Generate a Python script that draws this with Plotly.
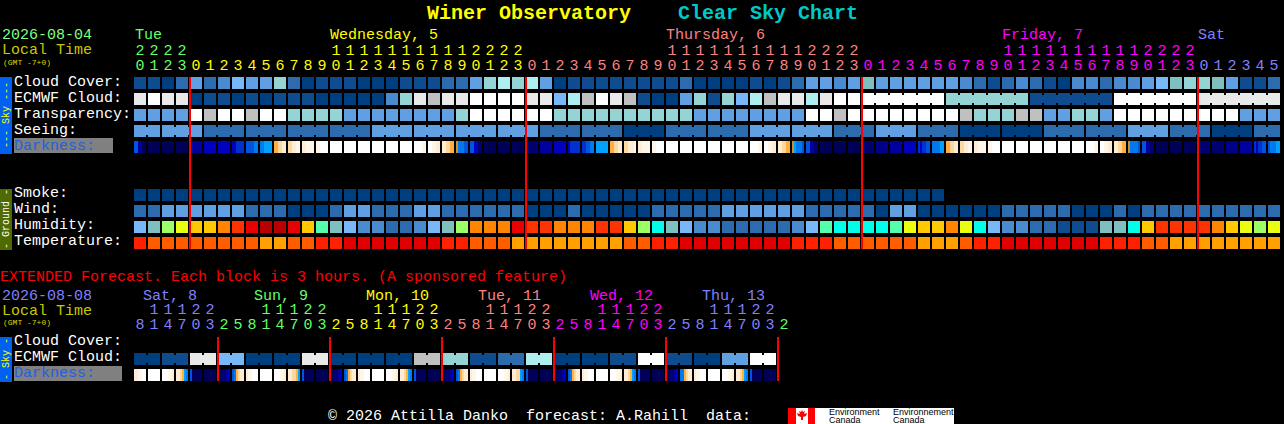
import plotly.graph_objects as go

W, H = 1284, 424
MONO = "Liberation Mono"

# block colours, the rows below hold indexes into this list
palette = ["#003f7f", "#0e4b8f", "#2c6bad", "#4a8bd0", "#5f9fe2", "#78b8f8", "#80bfbf", "#94d4d4", "#aeeeee",
           "#c0c0c0", "#e9e9e9", "#ffffff", "#9cff66", "#eaff10", "#ffc800", "#ff8400", "#ff3300", "#ea0000",
           "#b80000", "#55ffaa", "#00ffe9", "#ff2000", "#ff5c00", "#ffa000", "#e00000"]
# darkness scale, hex digit 0 (daylight) to f (dark night)
dark_palette = ["#ffffff", "#fff6ea", "#ffecd4", "#ffd8a0", "#ffb040", "#d09020", "#00a0ff", "#0078f0",
                "#0054e0", "#0030d0", "#0000c0", "#0000a0", "#000088", "#000070", "#000058", "#00004c"]

hours = [20, 21, 22, 23, 0, 1, 2, 3, 4, 5, 6, 7, 8, 9, 10, 11, 12, 13, 14, 15, 16, 17, 18, 19, 20, 21, 22, 23,
         0, 1, 2, 3, 4, 5, 6, 7, 8, 9, 10, 11, 12, 13, 14, 15, 16, 17, 18, 19, 20, 21, 22, 23,
         0, 1, 2, 3, 4, 5, 6, 7, 8, 9, 10, 11, 12, 13, 14, 15, 16, 17, 18, 19, 20, 21, 22, 23,
         0, 1, 2, 3, 4, 5]
hour_colors = ["#66ff66"] * 4 + ["#ffff00"] * 24 + ["#ff8080"] * 24 + ["#ff00ff"] * 24 + ["#8080ff"] * 6

cloud_cover = [1, 1, 0, 2, 4, 2, 3, 5, 4, 4, 7, 2, 0, 1, 1, 1, 0, 0, 0, 1, 1, 1, 2, 2, 4, 7, 8, 7, 8, 4, 0, 1, 1, 1,
               1, 1, 1, 1, 1, 2, 0, 0, 0, 0, 1, 0, 1, 2, 4, 4, 3, 4, 6, 4, 4, 4, 4, 4, 4, 3, 2, 1, 2, 3, 2, 1, 0,
               3, 3, 2, 3, 3, 4, 5, 6, 7, 7, 6, 4, 1, 1, 2]
ecmwf_cloud = [10, 11, 10, 10, 0, 1, 1, 0, 1, 0, 1, 1, 1, 0, 0, 0, 0, 0, 3, 7, 10, 9, 10, 10, 11, 11, 11, 11, 10, 10,
               5, 8, 9, 11, 10, 9, 1, 0, 0, 4, 7, 1, 7, 5, 8, 9, 10, 10, 8, 10, 11, 11,
               11, 11, 11, 11, 11, 11, 7, 7, 7, 7, 7, 7, 1, 1, 1, 1, 1, 1, 11, 11, 11, 11, 11, 11,
               10, 10, 10, 10, 10, 10]
transparency = [4, 4, 4, 4, 11, 9, 11, 11, 9, 11, 11, 7, 7, 7, 7, 4, 4, 4, 4, 4, 4, 4, 4, 7, 11, 11, 11, 11, 11, 11,
                7, 7, 7, 7, 7, 7, 7, 7, 7, 7, 4, 4, 4, 4, 4, 4, 4, 4, 11, 11, 9, 11,
                11, 11, 11, 11, 11, 11, 11, 9, 7, 7, 7, 9, 9, 4, 4, 7, 7, 4, 11, 11, 11, 11, 11, 11, 11, 11, 11,
                4, 4, 4]
seeing = [4, 4, 4, 4, 4, 2, 2, 2, 2, 2, 2, 2, 2, 2, 2, 2, 2, 4, 4, 4, 4, 4, 4, 4, 4, 4, 4, 4, 4, 2, 2, 2, 2, 2, 2,
          0, 0, 0, 2, 2, 2, 2, 2, 2, 4, 4, 4, 4, 4, 4, 2, 2, 2, 4, 4, 4, 2, 2, 2, 0, 0, 0, 0, 0, 0, 2, 2, 2, 2, 2, 2,
          4, 4, 4, 2, 2, 2, 0, 0, 0, 2, 2]
smoke = [0] * 58
wind = [2, 2, 4, 4, 4, 4, 4, 4, 2, 2, 2, 0, 0, 0, 2, 4, 4, 2, 2, 2, 4, 4, 2, 2, 2, 2, 2, 2, 0, 0, 0, 2, 0, 0, 0, 0, 0,
        2, 2, 2, 2, 2, 4, 4, 4, 4, 4, 4, 2, 2, 2, 2, 2, 0, 4, 4, 0, 0, 0, 0, 0, 0, 2, 2, 2, 2, 2, 0, 0, 0, 2, 0,
        2, 2, 2, 2, 2, 2, 2, 2, 2, 2]
humidity = [5, 6, 12, 13, 14, 14, 15, 16, 17, 18, 18, 17, 14, 19, 6, 5, 3, 3, 2, 2, 3, 5, 6, 12, 15, 15, 15, 17, 16, 16,
            15, 15, 15, 16, 16, 14, 12, 20, 6, 5, 3, 3, 2, 2, 2, 2, 2, 3, 5, 19, 20, 20,
            20, 20, 19, 13, 14, 14, 15, 13, 20, 5, 3, 3, 2, 2, 1, 1, 1, 6, 6, 20, 14, 16, 16, 16, 16, 15, 14, 13, 12, 13]
temperature = [21, 22, 22, 22, 22, 22, 22, 22, 22, 23, 23, 22, 22, 21, 21, 24, 24, 24, 24, 24, 24, 24, 21, 21, 22, 22, 22,
               23, 23, 23, 23, 23, 23, 23, 23, 22, 22, 21, 21, 24, 24, 24, 24, 24, 24, 24, 24, 21, 21, 21, 22, 22,
               22, 22, 22, 22, 23, 23, 23, 22, 21, 21, 24, 24, 24, 24, 24, 24, 24, 21, 21, 21, 22, 22,
               23, 23, 23, 23, 23, 23, 23, 23]
# six samples across each hour block
darkness = ["88bbee", "eeeeee", "eeeeee", "eeeeee", "bbbbbb", "aaaaaa", "aaaaaa", "aa9999", "888877", "776666",
            "443322", "332211", "221111", "110000", "000000", "000000", "000000", "000000", "000000", "000000",
            "000011", "001122", "223344", "577788", "88aadd", "eeeeee", "eeeeee", "eeeeee", "dddddd", "bbbbbb",
            "aaaaaa", "a99999", "998877", "666666", "443322", "332221", "221111", "110000", "000000", "000000",
            "000000", "000000", "000000", "000000", "000011", "001122", "223344", "567778", "88bbdd", "eeeeee",
            "eeeeee", "eeeeee", "dddddd", "cccccc", "bbbbbb", "aaaaaa", "9a9988", "777766", "443322", "332211",
            "221111", "110000", "000000", "000000", "000000", "000000", "000000", "000000", "000011", "001122",
            "223344", "577778", "88bbdd", "eeeeee", "eeeeee", "eeeeee", "dddddd", "dddddd", "cccccc", "bbbbbb",
            "9a9988", "877766"]

ext_hours = [8, 11, 14, 17, 20, 23, 2, 5, 8, 11, 14, 17, 20, 23, 2, 5, 8, 11, 14, 17, 20, 23, 2, 5, 8, 11, 14, 17,
             20, 23, 2, 5, 8, 11, 14, 17, 20, 23, 2, 5, 8, 11, 14, 17, 20, 23, 2]
ext_colors = ["#8080ff"] * 6 + ["#66ff66"] * 8 + ["#ffff00"] * 8 + ["#ff8080"] * 8 + ["#ff00ff"] * 8 \
    + ["#8080ff"] * 8 + ["#66ff66"]
ext_ecmwf = [0, 0, 1, 1, 10, 10, 5, 5, 0, 0, 0, 0, 10, 10, 0, 0, 0, 0, 0, 0, 9, 9, 7, 7, 1, 1, 2, 2, 8, 8, 0, 0, 0, 0,
             1, 1, 11, 11, 1, 1, 0, 0, 4, 4, 11, 11]
ext_darkness = ["221100", "000000", "000112", "223467", "8eeeee", "eeeeee",
                "eeddba", "874322", "211000", "000000", "000112", "223346", "8eeeee", "eeeeee",
                "eeddba", "874322", "211000", "000000", "000112", "223467", "8eeeee", "eeeeee",
                "eeddba", "874322", "211000", "000000", "000112", "223367", "8eeeee", "eeeeee",
                "eeddba", "874322", "211000", "000000", "000112", "223467", "8eeeee", "eeeeee",
                "eeddba", "774322", "211000", "000000", "000112", "223467", "8eeeee", "eeeeee"]

midnights = [4, 28, 52, 76]
ext_midnights = [6, 14, 22, 30, 38, 46]

# 3 hour seeing and 6 hour ecmwf data are drawn as joined blocks
seeing_starts = [0] + list(range(2, 82, 3))
ecmwf_starts = [52, 58, 64, 70, 76]
ext_starts = list(range(0, 46, 2))


def row_y(px):
    return (px - 83) / 16


def padded(vals, n=82):
    return vals + [None] * (n - len(vals))


def steps(colors):
    n = len(colors)
    out = []
    for i, c in enumerate(colors):
        out += [[i / n, c], [(i + 1) / n, c]]
    return out


def join_pairs(starts, end):
    pairs = []
    for a, b in zip(starts, starts[1:] + [end]):
        pairs += [(i, i + 1) for i in range(a, b - 1)]
    return pairs


def dark_row(cells):
    z = []
    for cell in cells:
        z += [int(ch, 16) for ch in cell] + [None]
    return z


fig = go.Figure()

main_rows = [cloud_cover, ecmwf_cloud, transparency, seeing, [None] * 82, [None] * 82, [None] * 82,
             padded(smoke), wind, humidity, temperature]
fig.add_trace(go.Heatmap(z=main_rows, x0=0, dx=1, y0=0, dy=1, xgap=2, ygap=4, zmin=-0.5, zmax=len(palette) - 0.5,
                         colorscale=steps(palette), showscale=False, hoverinfo="skip"))
fig.add_trace(go.Heatmap(z=[ext_ecmwf], x0=0, dx=1, y0=row_y(359), dy=1, xgap=2, ygap=4, zmin=-0.5,
                         zmax=len(palette) - 0.5, colorscale=steps(palette), showscale=False, hoverinfo="skip"))
for cells, y in [(darkness, 4), (ext_darkness, row_y(375))]:
    fig.add_trace(go.Heatmap(z=[dark_row(cells)], x0=-5 / 14, dx=1 / 7, y0=y, dy=0.75, zmin=-0.5, zmax=15.5,
                             colorscale=steps(dark_palette), showscale=False, hoverinfo="skip"))

# connectors between joined blocks, one trace per colour
segments = {}
for vals, y, starts, end in [(seeing, 3, seeing_starts, 82), (ecmwf_cloud, 1, ecmwf_starts, 82),
                             (ext_ecmwf, row_y(359), ext_starts, 46)]:
    for a, b in join_pairs(starts, end):
        if vals[a] == vals[b]:
            xs, ys = segments.setdefault(vals[a], ([], []))
            xs += [a, b, None]
            ys += [y, y, None]
for code, (xs, ys) in segments.items():
    fig.add_trace(go.Scatter(x=xs, y=ys, mode="lines", line=dict(color=palette[code], width=8), hoverinfo="skip"))

red_x, red_y = [], []
for c in midnights:
    red_x += [c - 3 / 7, c - 3 / 7, None]
    red_y += [row_y(77), row_y(249), None]
for c in ext_midnights:
    red_x += [c - 3 / 7, c - 3 / 7, None]
    red_y += [row_y(337), row_y(381), None]
fig.add_trace(go.Scatter(x=red_x, y=red_y, mode="lines", line=dict(color="#ff0000", width=2), hoverinfo="skip"))


def add_digits(hrs, colors, tens_px, ones_px):
    x = list(range(len(hrs)))
    tens = [str(h // 10) if h >= 10 else "" for h in hrs]
    ones = [str(h % 10) for h in hrs]
    for text, px in [(tens, tens_px), (ones, ones_px)]:
        fig.add_trace(go.Scatter(x=x, y=[row_y(px)] * len(x), mode="text", text=text, textposition="middle center",
                                 textfont=dict(family=MONO, size=15, color=colors), hoverinfo="skip"))


add_digits(hours, hour_colors, 51, 66)
add_digits(ext_hours, ext_colors, 310, 325)


def label(text, x, y, color="#ffffff", size=15, bold=False, angle=0, center=False):
    if bold:
        text = "<b>" + text + "</b>"
    fig.add_annotation(text=text, x=x / W, y=1 - y / H, xref="paper", yref="paper", showarrow=False,
                       xanchor="center" if center else "left", yanchor="middle", textangle=angle,
                       font=dict(family=MONO, size=size, color=color), borderpad=0, borderwidth=0)


def box(x0, y0, x1, y1, color):
    fig.add_shape(type="rect", xref="paper", yref="paper", x0=x0 / W, x1=x1 / W, y0=1 - y0 / H, y1=1 - y1 / H,
                  fillcolor=color, line_width=0, layer="below")


label("Winer Observatory", 427, 13, "#ffff00", 20, True)
label("Clear Sky Chart", 678, 13, "#00c8c8", 20, True)

label("2026-08-04", 2, 36, "#80ff80")
label("Local Time", 2, 51, "#c8c800")
label("(GMT -7+0)", 3, 62, "#d8d800", 8)
for name, px, col in [("Tue", 135, "#66ff66"), ("Wednesday, 5", 330, "#ffff00"), ("Thursday, 6", 666, "#ff8080"),
                      ("Friday, 7", 1002, "#ff00ff"), ("Sat", 1198, "#8080ff")]:
    label(name, px, 36, col)

for name, px in [("Cloud Cover:", 82), ("ECMWF Cloud:", 98), ("Transparency:", 114), ("Seeing:", 130),
                 ("Smoke:", 193), ("Wind:", 209), ("Humidity:", 225), ("Temperature:", 241),
                 ("Cloud Cover:", 341), ("ECMWF Cloud:", 357)]:
    label(name, 14, px)

box(14, 138, 113, 153, "#808080")
label("Darkness:", 14, 146, "#2060e0")
box(14, 366, 122, 381, "#808080")
label("Darkness:", 14, 373, "#2060e0")

box(0, 77, 12, 154, "#0060f0")
label("--- Sky ---", 6, 115, "#ffff00", 10, angle=-90, center=True)
box(0, 189, 12, 250, "#4f6a00")
label("- Ground -", 6, 219, "#ffffff", 10, angle=-90, center=True)
box(0, 337, 12, 382, "#0060f0")
label("- Sky -", 6, 359, "#ffff00", 10, angle=-90, center=True)

label("EXTENDED Forecast. Each block is 3 hours. (A sponsored feature)", 0, 277, "#ff0000")

label("2026-08-08", 2, 296, "#8080ff")
label("Local Time", 2, 311, "#c8c800")
label("(GMT -7+0)", 3, 322, "#d8d800", 8)
for name, px, col in [("Sat, 8", 143, "#8080ff"), ("Sun, 9", 254, "#66ff66"), ("Mon, 10", 366, "#ffff00"),
                      ("Tue, 11", 478, "#ff8080"), ("Wed, 12", 590, "#ff00ff"), ("Thu, 13", 702, "#8080ff")]:
    label(name, px, 296, col)

label("\u00a9 2026 Attilla Danko  forecast: A.Rahill  data:".replace("  ", "\u00a0\u00a0"), 328, 416)

# Environment Canada logo
box(788, 408, 954, 424, "#ffffff")
box(788, 408, 796, 424, "#ff0000")
box(808, 408, 815, 424, "#ff0000")
leaf = [(802, 410), (803, 412), (805, 411), (804, 414), (807, 413), (806, 416), (803, 417), (803, 420), (801, 420),
        (801, 417), (798, 416), (797, 413), (800, 414), (799, 411), (801, 412)]
path = "M " + " L ".join(f"{x / W} {1 - y / H}" for x, y in leaf) + " Z"
fig.add_shape(type="path", xref="paper", yref="paper", path=path, fillcolor="#ff0000", line_width=0)
for name, x, y in [("Environment", 827, 412), ("Canada", 827, 420), ("Environnement", 891, 412), ("Canada", 891, 420)]:
    fig.add_annotation(text=name, x=x / W, y=1 - y / H, xref="paper", yref="paper", showarrow=False, xanchor="left",
                       yanchor="middle", font=dict(family="Liberation Sans", size=9, color="#000000"))

fig.update_layout(
    width=W, height=H, margin=dict(l=0, r=0, t=0, b=0), paper_bgcolor="#000000", plot_bgcolor="#000000",
    showlegend=False,
    xaxis=dict(range=[-10, (W - 140) / 14], visible=False, fixedrange=True),
    yaxis=dict(range=[row_y(H), row_y(0)], visible=False, fixedrange=True),
)
fig.write_html("out.html", config=dict(displayModeBar=False),
               post_script="document.body.style.margin='0';document.body.style.background='#000';")
